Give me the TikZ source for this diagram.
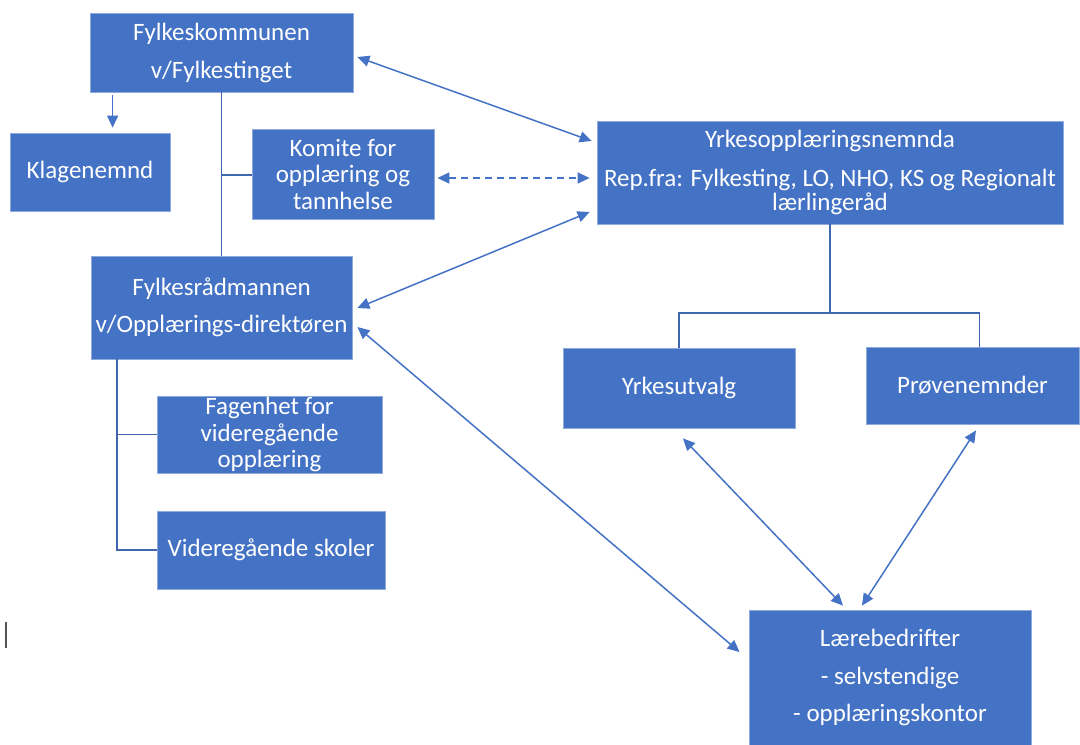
\documentclass[tikz,border=0pt]{standalone}
\usepackage{fontspec}
\setmainfont{Carlito}
\usetikzlibrary{arrows.meta,calc}
\definecolor{boxblue}{HTML}{4472C4}
\definecolor{boxedge}{HTML}{8FAADC}
\definecolor{treeline}{HTML}{4066AE}
\definecolor{cursorgray}{HTML}{555555}
\begin{document}
\begin{tikzpicture}[x=1pt,y=-1pt,
  box/.style={rectangle,fill=boxblue,draw=boxedge,line width=0.8pt,text=white,align=center,inner sep=0pt,font=\fontsize{25}{26.5}\selectfont},
  tree/.style={draw=treeline,line width=1.9pt},
  link/.style={draw=boxblue,line width=1.5pt,{Triangle[length=12pt,width=11pt]}-{Triangle[length=12pt,width=11pt]}},
  onelink/.style={draw=boxblue,line width=1.5pt,-{Triangle[length=12pt,width=11pt]}}]
\useasboundingbox (0,0) rectangle (1080,745);

\node[box,minimum width=263pt,minimum height=79pt] (fk) at (221.5,52.5) {Fylkeskommunen\\[11.5pt]v/Fylkestinget};
\node[box,minimum width=160pt,minimum height=78pt] (kl) at (90,172) {Klagenemnd};
\node[box,minimum width=182pt,minimum height=90pt] (ko) at (343,174) {Komite for\\opplæring og\\tannhelse};
\node[box,minimum width=466pt,minimum height=103pt] (yn) at (830,172.5) {Yrkesopplæringsnemnda\\[12.5pt]Rep.fra: Fylkesting, LO, NHO, KS og Regionalt\\[-2.5pt]lærlingeråd};
\node[box,minimum width=261pt,minimum height=103pt] (fr) at (221.5,307.5) {Fylkesrådmannen\\[10.5pt]v/Opplærings-direktøren};
\node[box,minimum width=225pt,minimum height=77pt] (fa) at (269.5,434.5) {Fagenhet for\\videregående\\opplæring};
\node[box,minimum width=228pt,minimum height=78pt] (vs) at (271,550) {Videregående skoler};
\node[box,minimum width=232pt,minimum height=80pt] (yu) at (679,388) {Yrkesutvalg};
\node[box,minimum width=213pt,minimum height=77pt] (pn) at (972.5,385.5) {Prøvenemnder};
\node[box,minimum width=282pt,minimum height=135pt] (lb) at (890,677.5) {Lærebedrifter\\[11.5pt]- selvstendige\\[11pt]- opplæringskontor};

% tree lines
\draw[tree] (fk.south) -- (fr.north);
\coordinate (j1) at ($(fk.south)+(0,83)$);
\draw[tree] (j1) -- (j1 -| ko.west);
\coordinate (t2) at ($(fr.south west)+(26,0)$);
\draw[tree] (t2) |- (vs.west);
\draw[tree] (fa.west) -- (fa.west -| t2);
\draw[tree] (yn.south) -- ++(0,89) coordinate (t3);
\draw[tree] (yu.north) |- (t3) -| ($(pn.north)+(7,0)$);

% arrows
\draw[onelink] ($(fk.south west)+(23,3)$) -- ($(kl.north west)+(103,-5)$);
\draw[link] ($(fk.east)+(4,4.5)$) -- ($(yn.west)+(-5,-31.5)$);
\draw[link,dash pattern=on 7pt off 5pt] ($(ko.east)+(3,4)$) -- ($(yn.west)+(-7,5.5)$);
\draw[link] ($(fr.east)+(5,0.5)$) -- ($(yn.west)+(-7,39.5)$);
\draw[link] ($(fr.east)+(5,19.5)$) -- ($(lb.west)+(-9,-25.5)$);
\draw[link] ($(yu.south)+(4,10)$) -- ($(lb.north)+(-47,-4)$);
\draw[link] ($(pn.south)+(3.5,6)$) -- ($(lb.north)+(-28,-4)$);

% text cursor mark
\draw[cursorgray,line width=1.5pt] (6,622) -- (6,648);
\end{tikzpicture}
\end{document}
